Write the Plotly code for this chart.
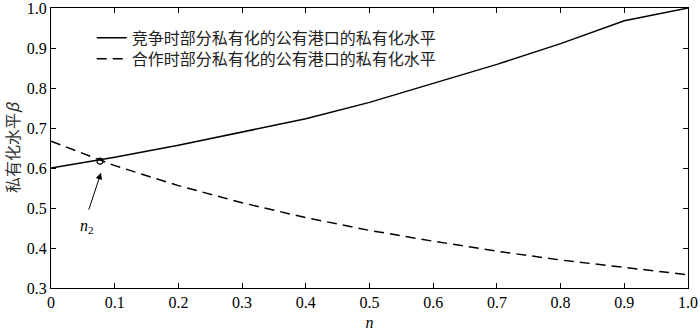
import plotly.graph_objects as go

n_vals = [0.0, 0.1, 0.2, 0.3, 0.4, 0.5, 0.6, 0.7, 0.8, 0.9, 1.0]
beta_competition = [0.600, 0.627, 0.657, 0.690, 0.723, 0.764, 0.811, 0.859, 0.911, 0.968, 1.000]
beta_cooperation = [0.667, 0.606, 0.556, 0.513, 0.476, 0.444, 0.417, 0.392, 0.370, 0.351, 0.333]
cross_point = (0.077, 0.617)
x_ticks = [0, 0.1, 0.2, 0.3, 0.4, 0.5, 0.6, 0.7, 0.8, 0.9, 1.0]
x_tick_text = ["0", "0.1", "0.2", "0.3", "0.4", "0.5", "0.6", "0.7", "0.8", "0.9", "1.0"]
y_ticks = [0.3, 0.4, 0.5, 0.6, 0.7, 0.8, 0.9, 1.0]
y_tick_text = ["0.3", "0.4", "0.5", "0.6", "0.7", "0.8", "0.9", "1.0"]
label_comp = "竞争时部分私有化的公有港口的私有化水平"
label_coop = "合作时部分私有化的公有港口的私有化水平"

serif = "Liberation Serif, Times New Roman, serif"
cjk = "Noto Sans CJK SC"

fig = go.Figure()
fig.add_trace(go.Scatter(x=n_vals, y=beta_competition, mode="lines", name=label_comp,
                         line=dict(color="black", width=1.5), legend="legend"))
fig.add_trace(go.Scatter(x=n_vals, y=beta_cooperation, mode="lines", name=label_coop,
                         line=dict(color="black", width=1.5, dash="10px,6px"), legend="legend2"))
fig.add_trace(go.Scatter(x=[cross_point[0]], y=[cross_point[1]], mode="markers", showlegend=False,
                         marker=dict(symbol="circle-open", size=6, color="black", line=dict(width=1.2))))

fig.add_annotation(x=0.0785, y=0.588, ax=0.0585, ay=0.492, xref="x", yref="y", axref="x", ayref="y",
                   showarrow=True, arrowhead=2, arrowsize=1.3, arrowwidth=1, arrowcolor="black", text="")
fig.add_annotation(x=0.056, y=0.455, xref="x", yref="y", showarrow=False,
                   text="<i>n</i><sub>2</sub>", font=dict(family=serif, size=16, color="black"))

axis_common = dict(showline=True, linecolor="black", linewidth=1, mirror="ticks", ticks="inside",
                   ticklen=5, tickcolor="black", showgrid=False, zeroline=False, automargin=False,
                   ticklabeloverflow="allow",
                   tickfont=dict(family=serif, size=16, color="black"))

fig.update_xaxes(range=[0, 1], tickvals=x_ticks, ticktext=x_tick_text,
                 title=dict(text="<i>n</i>", font=dict(family=serif, size=16, color="black"), standoff=6),
                 **axis_common)
fig.update_yaxes(range=[0.3, 1.0], tickvals=y_ticks, ticktext=y_tick_text,
                 title=dict(text="私有化水平<i>β</i>", font=dict(family=cjk, size=16, color="#333"), standoff=3),
                 **axis_common)

legend_common = dict(xanchor="left", yanchor="middle", bgcolor="rgba(0,0,0,0)",
                     font=dict(family=cjk, size=16, color="#222"), itemwidth=30)
fig.update_layout(
    width=700, height=333,
    margin=dict(l=51, r=12, t=8, b=45, autoexpand=False),
    plot_bgcolor="white", paper_bgcolor="white",
    legend=dict(x=0.064, y=0.893, **legend_common),
    legend2=dict(x=0.064, y=0.818, **legend_common),
)

fig.write_html("out.html", config={"displayModeBar": False},
               post_script="document.body.style.margin='0';")
